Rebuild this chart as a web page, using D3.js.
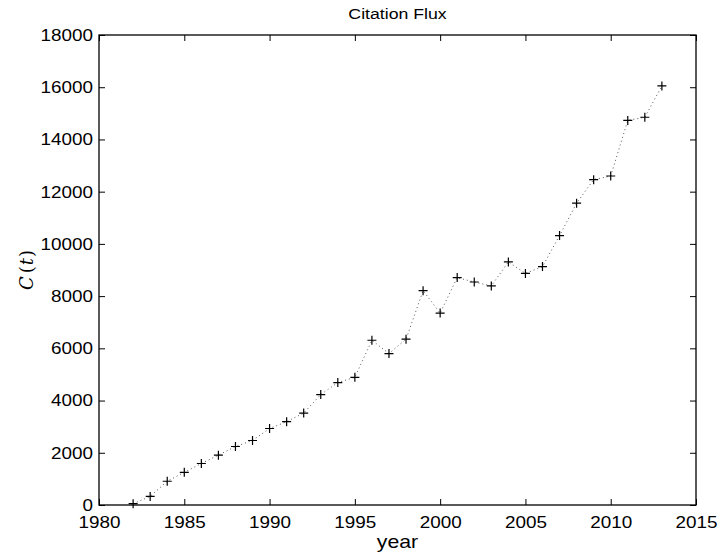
<!DOCTYPE html>
<html><head><meta charset="utf-8">
<script src="https://cdn.jsdelivr.net/npm/d3@7/dist/d3.min.js"></script>
<style>body{margin:0;background:#fff}svg{display:block}text{font-family:"Liberation Sans",Arial,sans-serif;fill:#000}</style>
</head><body>
<svg id="c" width="720" height="559"></svg>
<script>
const years = [1982,1983,1984,1985,1986,1987,1988,1989,1990,1991,1992,1993,1994,1995,1996,1997,1998,1999,2000,2001,2002,2003,2004,2005,2006,2007,2008,2009,2010,2011,2012,2013];
const citations = [50,330,910,1250,1590,1910,2240,2470,2930,3190,3520,4230,4690,4890,6310,5800,6350,8210,7350,8710,8540,8390,9310,8870,9130,10320,11560,12460,12600,14730,14850,16050];
const xTicks = [1980,1985,1990,1995,2000,2005,2010,2015];
const yTicks = [0,2000,4000,6000,8000,10000,12000,14000,16000,18000];
const titleText = "Citation Flux";
const xLabel = "year";

const L=99,R=696,T=35,B=505, SX=1.18;
const svg=d3.select("#c");
const x=d3.scaleLinear().domain([1980,2015]).range([L,R]);
const y=d3.scaleLinear().domain([0,18000]).range([B,T]);

svg.append("rect").attr("x",L).attr("y",T).attr("width",R-L).attr("height",B-T).attr("fill","#fff");

const data=years.map((d,i)=>({x:d,y:citations[i]}));
svg.append("path").datum(data)
  .attr("d",d3.line().x(d=>x(d.x)).y(d=>y(d.y)))
  .attr("fill","none").attr("stroke","#555").attr("stroke-width",1).attr("stroke-dasharray","1,3");

const tl=6;
const gb=svg.append("g").attr("transform",`translate(0,${B})`)
  .call(d3.axisBottom(x).tickValues(xTicks).tickFormat(d3.format("d")).tickSizeInner(-tl).tickSizeOuter(0));
gb.selectAll("text").attr("y",0).attr("dy",null).attr("transform","translate(0,22.5) scale("+SX+",1)").style("font-size","16px");
svg.append("g").attr("transform",`translate(0,${T})`)
  .call(d3.axisTop(x).tickValues(xTicks).tickFormat("").tickSizeInner(-tl).tickSizeOuter(0));
const gl=svg.append("g").attr("transform",`translate(${L},0)`)
  .call(d3.axisLeft(y).tickValues(yTicks).tickFormat(d3.format("d")).tickSizeInner(-tl).tickSizeOuter(0));
gl.selectAll("text").attr("x",0).attr("dy","0.34em").attr("transform","translate(-6,0) scale("+SX+",1)").style("font-size","16px");
svg.append("g").attr("transform",`translate(${R},0)`)
  .call(d3.axisRight(y).tickValues(yTicks).tickFormat("").tickSizeInner(-tl).tickSizeOuter(0));
svg.selectAll(".domain").remove();
svg.selectAll(".tick line").attr("stroke","#000").attr("stroke-width",1);

svg.append("rect").attr("x",L).attr("y",T).attr("width",R-L).attr("height",B-T)
  .attr("fill","none").attr("stroke","#000").attr("stroke-width",1.3);

const s=4.5;
const m=svg.append("g").selectAll("g").data(data).join("g")
  .attr("transform",d=>`translate(${x(d.x)},${y(d.y)})`);
m.append("path").attr("d",`M${-s},0H${s}M0,${-s}V${s}`).attr("stroke","#000").attr("stroke-width",1.2).attr("fill","none");

svg.append("text").attr("transform",`translate(${(L+R)/2},19) scale(${SX},1)`)
  .attr("text-anchor","middle").style("font-size","15px").text(titleText);
svg.append("text").attr("transform",`translate(${(L+R)/2},548) scale(${SX},1)`)
  .attr("text-anchor","middle").style("font-size","18px").text(xLabel);
const yl=svg.append("text").attr("transform",`translate(33,${(T+B)/2}) rotate(-90)`)
  .attr("text-anchor","middle").style("font-family","'DejaVu Serif','Liberation Serif',serif").style("font-size","18px").style("font-style","italic");
yl.append("tspan").text("C");
yl.append("tspan").attr("dx","3").style("font-style","normal").text("(");
yl.append("tspan").attr("dx","1").text("t");
yl.append("tspan").attr("dx","1").style("font-style","normal").text(")");
</script>
</body></html>
